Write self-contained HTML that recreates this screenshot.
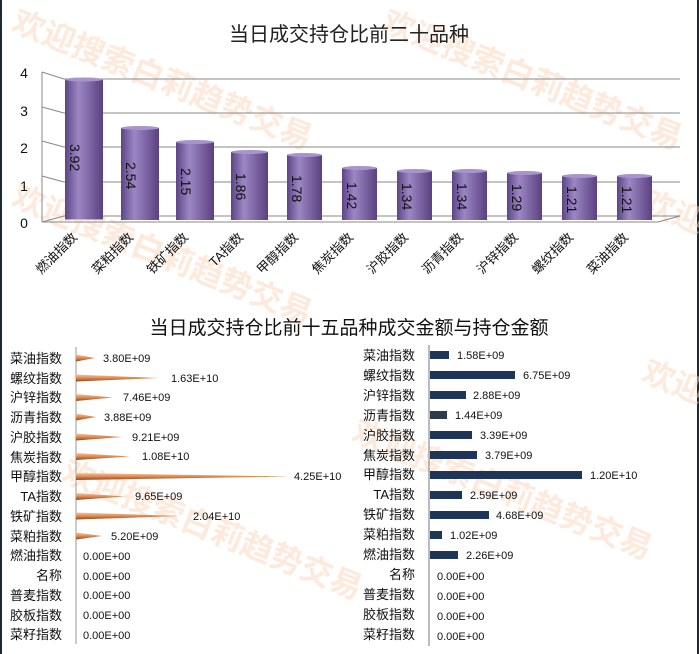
<!DOCTYPE html>
<html><head><meta charset="utf-8"><style>
html,body{margin:0;padding:0;background:#fff}
svg{display:block;font-family:"Liberation Sans","Noto Sans CJK SC",sans-serif}
</style></head><body>
<svg width="699" height="654" viewBox="0 0 699 654" xmlns="http://www.w3.org/2000/svg">
<defs>
<linearGradient id="cyl" x1="0" x2="1" y1="0" y2="0">
<stop offset="0" stop-color="#5d4585"/><stop offset="0.35" stop-color="#9c86c4"/><stop offset="1" stop-color="#5a4180"/>
</linearGradient>
<linearGradient id="cone" x1="0" x2="0" y1="0" y2="1">
<stop offset="0" stop-color="#f5c4a0"/><stop offset="0.5" stop-color="#e08a50"/><stop offset="1" stop-color="#8a4a20"/>
</linearGradient>
</defs>
<rect width="699" height="654" fill="#fff"/>
<rect x="0" y="0" width="2" height="654" fill="#1e2a3a"/>
<rect x="697" y="0" width="2" height="654" fill="#1e2a3a"/>
<!-- watermark -->
<g fill="#fbd5b8" font-size="32" font-weight="bold" opacity="0.5">
<text transform="translate(10,30) rotate(22)">欢迎搜索白莉趋势交易</text>
<text transform="translate(10,205) rotate(22)">欢迎搜索白莉趋势交易</text>
<text transform="translate(380,30) rotate(22)">欢迎搜索白莉趋势交易</text>
<text transform="translate(350,440) rotate(22)">欢迎搜索白莉趋势交易</text>
<text transform="translate(60,480) rotate(22)">欢迎搜索白莉趋势交易</text>
<text transform="translate(640,210) rotate(22)">欢迎</text>
<text transform="translate(640,380) rotate(22)">欢迎</text>
</g>
<text x="349" y="41" font-size="20" text-anchor="middle" fill="#222">当日成交持仓比前二十品种</text>
<g stroke="#888" stroke-width="1" fill="none">
<line x1="64" y1="79" x2="680" y2="79"/><line x1="64" y1="113" x2="680" y2="113"/>
<line x1="64" y1="147" x2="680" y2="147"/><line x1="64" y1="182" x2="680" y2="182"/>
<line x1="64" y1="216" x2="680" y2="216"/>
<line x1="42" y1="72" x2="64" y2="79"/><line x1="42" y1="107" x2="64" y2="113"/>
<line x1="42" y1="141" x2="64" y2="147"/><line x1="42" y1="176" x2="64" y2="182"/>
<line x1="42" y1="222" x2="64" y2="216"/>
<line x1="42" y1="72" x2="42" y2="222"/>
<line x1="42" y1="222" x2="658" y2="222"/><line x1="658" y1="222" x2="680" y2="216"/>
</g>
<g font-size="14" fill="#111" text-anchor="middle">
<text x="24" y="78">4</text><text x="24" y="116">3</text><text x="24" y="153">2</text><text x="24" y="191">1</text><text x="24" y="228">0</text>
</g>
<g>
<rect x="65" y="79.5" width="38" height="140" fill="url(#cyl)"/><ellipse cx="84" cy="79.5" rx="19" ry="2" fill="#a894cc"/>
<rect x="121" y="128" width="38" height="92" fill="url(#cyl)"/><ellipse cx="140" cy="128" rx="19" ry="2" fill="#a894cc"/>
<rect x="176" y="142" width="38" height="78" fill="url(#cyl)"/><ellipse cx="195" cy="142" rx="19" ry="2" fill="#a894cc"/>
<rect x="231" y="152" width="37" height="68" fill="url(#cyl)"/><ellipse cx="249.5" cy="152" rx="18.5" ry="2" fill="#a894cc"/>
<rect x="287" y="155" width="35" height="65" fill="url(#cyl)"/><ellipse cx="304.5" cy="155" rx="17.5" ry="2" fill="#a894cc"/>
<rect x="342" y="168" width="35" height="52" fill="url(#cyl)"/><ellipse cx="359.5" cy="168" rx="17.5" ry="2" fill="#a894cc"/>
<rect x="397" y="171" width="35" height="49" fill="url(#cyl)"/><ellipse cx="414.5" cy="171" rx="17.5" ry="2" fill="#a894cc"/>
<rect x="452" y="171" width="35" height="49" fill="url(#cyl)"/><ellipse cx="469.5" cy="171" rx="17.5" ry="2" fill="#a894cc"/>
<rect x="507" y="173" width="35" height="47" fill="url(#cyl)"/><ellipse cx="524.5" cy="173" rx="17.5" ry="2" fill="#a894cc"/>
<rect x="562" y="176" width="35" height="44" fill="url(#cyl)"/><ellipse cx="579.5" cy="176" rx="17.5" ry="2" fill="#a894cc"/>
<rect x="617" y="176" width="35" height="44" fill="url(#cyl)"/><ellipse cx="634.5" cy="176" rx="17.5" ry="2" fill="#a894cc"/>
</g>
<g font-size="14" fill="#111">
<text transform="translate(70,144) rotate(90)">3.92</text>
<text transform="translate(126,162) rotate(90)">2.54</text>
<text transform="translate(181,168) rotate(90)">2.15</text>
<text transform="translate(236,173) rotate(90)">1.86</text>
<text transform="translate(292,175) rotate(90)">1.78</text>
<text transform="translate(347,182) rotate(90)">1.42</text>
<text transform="translate(402,183) rotate(90)">1.34</text>
<text transform="translate(457,183) rotate(90)">1.34</text>
<text transform="translate(512,184) rotate(90)">1.29</text>
<text transform="translate(567,186) rotate(90)">1.21</text>
<text transform="translate(622,186) rotate(90)">1.21</text>
</g>
<g font-size="13" fill="#111" text-anchor="end">
<text transform="translate(78,238) rotate(-45)">燃油指数</text>
<text transform="translate(134,238) rotate(-45)">菜粕指数</text>
<text transform="translate(189,238) rotate(-45)">铁矿指数</text>
<text transform="translate(244,238) rotate(-45)">TA指数</text>
<text transform="translate(299,238) rotate(-45)">甲醇指数</text>
<text transform="translate(354,238) rotate(-45)">焦炭指数</text>
<text transform="translate(409,238) rotate(-45)">沪胶指数</text>
<text transform="translate(464,238) rotate(-45)">沥青指数</text>
<text transform="translate(519,238) rotate(-45)">沪锌指数</text>
<text transform="translate(574,238) rotate(-45)">螺纹指数</text>
<text transform="translate(629,238) rotate(-45)">菜油指数</text>
</g>
<text x="349" y="334" font-size="19" text-anchor="middle" fill="#111">当日成交持仓比前十五品种成交金额与持仓金额</text>
<line x1="76" y1="347" x2="76" y2="644" stroke="#999"/>
<g font-size="13" fill="#111" text-anchor="end">
<text x="62" y="363">菜油指数</text><text x="62" y="383">螺纹指数</text><text x="62" y="402">沪锌指数</text>
<text x="62" y="422">沥青指数</text><text x="62" y="442">沪胶指数</text><text x="62" y="462">焦炭指数</text>
<text x="62" y="481">甲醇指数</text><text x="62" y="501">TA指数</text><text x="62" y="521">铁矿指数</text>
<text x="62" y="541">菜粕指数</text><text x="62" y="560">燃油指数</text><text x="62" y="580">名称</text>
<text x="62" y="600">普麦指数</text><text x="62" y="620">胶板指数</text><text x="62" y="639">菜籽指数</text>
</g>
<g fill="url(#cone)">
<polygon points="76,354.5 95,358 76,361.5"/>
<polygon points="76,374.5 158,378 76,381.5"/>
<polygon points="76,394 113,397.5 76,401"/>
<polygon points="76,413.5 96,417 76,420.5"/>
<polygon points="76,433.5 122,437 76,440.5"/>
<polygon points="76,453 130,456.5 76,460"/>
<polygon points="76,473 290,476.5 76,480"/>
<polygon points="76,493 125,496.5 76,500"/>
<polygon points="76,512.5 180,516 76,519.5"/>
<polygon points="76,532.5 102,536 76,539.5"/>
</g>
<g font-size="11" fill="#111">
<text x="103" y="362">3.80E+09</text><text x="171" y="382">1.63E+10</text><text x="123" y="401">7.46E+09</text>
<text x="104" y="421">3.88E+09</text><text x="132" y="441">9.21E+09</text><text x="142" y="460">1.08E+10</text>
<text x="294" y="480">4.25E+10</text><text x="135" y="500">9.65E+09</text><text x="193" y="520">2.04E+10</text>
<text x="111" y="540">5.20E+09</text><text x="83" y="560">0.00E+00</text><text x="83" y="580">0.00E+00</text>
<text x="83" y="599">0.00E+00</text><text x="83" y="619">0.00E+00</text><text x="83" y="639">0.00E+00</text>
</g>
<line x1="429" y1="345" x2="429" y2="646" stroke="#777"/>
<g font-size="13" fill="#111" text-anchor="end">
<text x="415" y="360">菜油指数</text><text x="415" y="380">螺纹指数</text><text x="415" y="400">沪锌指数</text>
<text x="415" y="420">沥青指数</text><text x="415" y="440">沪胶指数</text><text x="415" y="460">焦炭指数</text>
<text x="415" y="479">甲醇指数</text><text x="415" y="499">TA指数</text><text x="415" y="519">铁矿指数</text>
<text x="415" y="539">菜粕指数</text><text x="415" y="559">燃油指数</text><text x="415" y="579">名称</text>
<text x="415" y="599">普麦指数</text><text x="415" y="619">胶板指数</text><text x="415" y="639">菜籽指数</text>
</g>
<g fill="#1e3558">
<rect x="430" y="351" width="19" height="8"/>
<rect x="430" y="371" width="85" height="8"/>
<rect x="430" y="391" width="36" height="8"/>
<rect x="430" y="411" width="17" height="8" fill="#2e3a4e"/>
<rect x="430" y="431" width="42" height="8"/>
<rect x="430" y="451" width="47" height="8"/>
<rect x="430" y="471" width="152" height="8"/>
<rect x="430" y="491" width="32" height="8"/>
<rect x="430" y="511" width="59" height="8"/>
<rect x="430" y="531" width="12" height="8"/>
<rect x="430" y="551" width="28" height="8"/>
</g>
<g font-size="11" fill="#111">
<text x="457" y="359">1.58E+09</text><text x="523" y="379">6.75E+09</text><text x="473" y="399">2.88E+09</text>
<text x="455" y="419">1.44E+09</text><text x="480" y="439">3.39E+09</text><text x="485" y="459">3.79E+09</text>
<text x="590" y="479">1.20E+10</text><text x="470" y="499">2.59E+09</text><text x="496" y="519">4.68E+09</text>
<text x="450" y="539">1.02E+09</text><text x="466" y="559">2.26E+09</text><text x="437" y="580">0.00E+00</text>
<text x="437" y="600">0.00E+00</text><text x="437" y="620">0.00E+00</text><text x="437" y="640">0.00E+00</text>
</g>
</svg>
</body></html>
